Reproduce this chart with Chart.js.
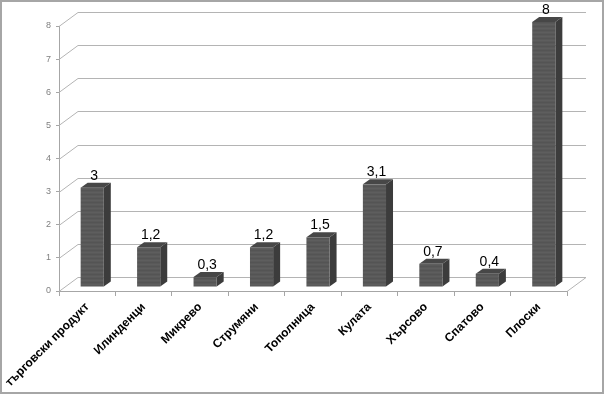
<!DOCTYPE html>
<html>
<head>
<meta charset="utf-8">
<script src="https://cdn.jsdelivr.net/npm/chart.js@4.4.0/dist/chart.umd.min.js"></script>
<style>
    html, body { margin: 0; padding: 0; background: #fff; }
</style>
</head>
<body>
<canvas id="chart" width="605" height="395"></canvas>
<script>
// Данни
const categories = ['търговски продукт', 'Илинденци', 'Микрево', 'Струмяни', 'Тополница', 'Кулата', 'Хърсово', 'Спатово', 'Плоски'];
const values = [3, 1.2, 0.3, 1.2, 1.5, 3.1, 0.7, 0.4, 8];
const yMin = 0;
const yMax = 8;
const yStep = 1;

// 3D отмествания (стени / колони)
const WALL_DX = 19, WALL_DY = 14;   // дълбочина на стените
const BAR_DX = 5, BAR_DY = 4;       // колоните са малко навътре
const SIDE_DX = 7, SIDE_DY = 5;     // дълбочина на колоната

function stripePattern(ctx) {
    const c = document.createElement('canvas');
    c.width = 1; c.height = 4;
    const g = c.getContext('2d');
    const rows = ['#5e5e5e', '#595959', '#545454', '#595959'];
    rows.forEach((col, i) => { g.fillStyle = col; g.fillRect(0, i, 1, 1); });
    return ctx.createPattern(c, 'repeat');
}

const threeD = {
    id: 'threeD',
    beforeDatasetsDraw(chart) {
        const ctx = chart.ctx;
        const area = chart.chartArea;
        const y = chart.scales.y;
        ctx.save();
        ctx.strokeStyle = '#b4b4b4';
        ctx.lineWidth = 1;
        for (let v = yMin; v <= yMax; v += yStep) {
            const py = Math.round(y.getPixelForValue(v)) + 0.5;
            ctx.beginPath();
            ctx.moveTo(area.left, py);
            ctx.lineTo(area.left + WALL_DX, py - WALL_DY);
            ctx.lineTo(area.right + WALL_DX, py - WALL_DY);
            ctx.stroke();
        }
        // дясен ръб на пода
        const by = Math.round(area.bottom) + 0.5;
        ctx.beginPath();
        ctx.moveTo(area.right, by);
        ctx.lineTo(area.right + WALL_DX, by - WALL_DY);
        ctx.stroke();
        ctx.restore();
    },
    afterDatasetsDraw(chart) {
        const ctx = chart.ctx;
        const meta = chart.getDatasetMeta(0);
        const front = stripePattern(ctx);
        ctx.save();
        meta.data.forEach((bar, i) => {
            const p = bar.getProps(['x', 'y', 'base', 'width'], true);
            const x0 = p.x - p.width / 2 + BAR_DX;
            const x1 = p.x + p.width / 2 + BAR_DX;
            const top = p.y - BAR_DY;
            const bottom = p.base - BAR_DY;

            // странична стена
            ctx.fillStyle = '#3c3c3c';
            ctx.beginPath();
            ctx.moveTo(x1, top);
            ctx.lineTo(x1 + SIDE_DX, top - SIDE_DY);
            ctx.lineTo(x1 + SIDE_DX, bottom - SIDE_DY);
            ctx.lineTo(x1, bottom);
            ctx.closePath();
            ctx.fill();

            // горна стена
            ctx.fillStyle = '#474747';
            ctx.beginPath();
            ctx.moveTo(x0, top);
            ctx.lineTo(x0 + SIDE_DX, top - SIDE_DY);
            ctx.lineTo(x1 + SIDE_DX, top - SIDE_DY);
            ctx.lineTo(x1, top);
            ctx.closePath();
            ctx.fill();

            // предна стена
            ctx.fillStyle = front;
            ctx.fillRect(x0, top, x1 - x0, bottom - top);

            // етикет със стойността
            ctx.fillStyle = '#000';
            ctx.font = '14px "Liberation Sans", Arial, sans-serif';
            ctx.textAlign = 'center';
            ctx.textBaseline = 'alphabetic';
            ctx.fillText(String(values[i]).replace('.', ','), (x0 + x1) / 2 + 2, top - 8);
        });
        ctx.restore();
    },
    afterDraw(chart) {
        const ctx = chart.ctx;
        ctx.save();
        ctx.strokeStyle = '#a6a6a6';
        ctx.lineWidth = 2;
        ctx.strokeRect(1, 1, chart.width - 3, chart.height - 3);
        ctx.restore();
    }
};

const ctx = document.getElementById('chart').getContext('2d');
new Chart(ctx, {
    type: 'bar',
    data: {
        labels: categories,
        datasets: [{
            data: values,
            backgroundColor: 'rgba(0,0,0,0)',
            borderWidth: 0,
            categoryPercentage: 1,
            barPercentage: 0.41
        }]
    },
    options: {
        responsive: false,
        animation: false,
        events: [],
        layout: { padding: { top: 26, right: 38, left: 0, bottom: 0 } },
        plugins: {
            legend: { display: false },
            tooltip: { enabled: false }
        },
        scales: {
            x: {
                grid: { offset: true, drawOnChartArea: false, drawTicks: true, tickLength: 5, color: '#a6a6a6' },
                border: { color: '#a6a6a6' },
                ticks: {
                    autoSkip: false,
                    minRotation: 45,
                    maxRotation: 45,
                    padding: 4,
                    color: '#000',
                    font: { family: '"Liberation Sans", Arial, sans-serif', size: 12, weight: 'bold' }
                },
                afterFit(scale) {
                    scale.height = 104;
                    scale.paddingLeft = 0;
                    scale.paddingRight = 0;
                }
            },
            y: {
                min: yMin,
                max: yMax,
                grid: { drawOnChartArea: false, drawTicks: true, tickLength: 3, color: '#a6a6a6' },
                border: { color: '#a6a6a6' },
                ticks: {
                    stepSize: yStep,
                    padding: 5,
                    color: '#7f7f7f',
                    font: { family: '"Liberation Sans", Arial, sans-serif', size: 9 }
                },
                afterFit(scale) {
                    scale.width = 59;
                }
            }
        }
    },
    plugins: [threeD]
});
</script>
</body>
</html>
